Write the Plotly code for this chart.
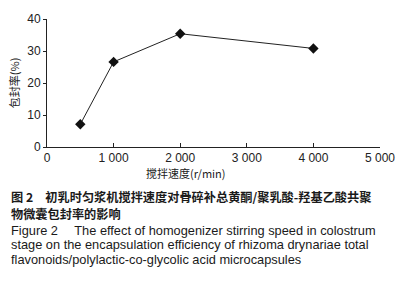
import plotly.graph_objects as go

speed = [500, 1000, 2000, 4000]
efficiency = [7.1, 26.6, 35.4, 30.8]
x_ticks = [0, 1000, 2000, 3000, 4000, 5000]
x_tick_labels = ["0", "1 000", "2 000", "3 000", "4 000", "5 000"]
y_ticks = [0, 10, 20, 30, 40]
y_tick_labels = ["0", "10", "20", "30", "40"]

x_title = "搅拌速度(r/min)"
y_title = "包封率(%)"
caption_cn = ["图 2　初乳时匀浆机搅拌速度对骨碎补总黄酮/聚乳酸-羟基乙酸共聚",
              "物微囊包封率的影响"]
caption_en = ["Figure 2　 The effect of homogenizer stirring speed in colostrum",
              "stage on the encapsulation efficiency of rhizoma drynariae total",
              "flavonoids/polylactic-co-glycolic acid microcapsules"]

fig = go.Figure()
fig.add_trace(go.Scatter(
    x=speed, y=efficiency, mode="lines+markers",
    line=dict(color="#222222", width=1),
    marker=dict(symbol="diamond", size=8, color="#111111"),
    showlegend=False,
))

axis_font = dict(family="Liberation Sans, Arial, sans-serif", size=12, color="#222222")
fig.update_layout(
    width=415, height=300,
    margin=dict(l=47, r=35, t=13, b=153),
    paper_bgcolor="white", plot_bgcolor="white",
    xaxis=dict(range=[0, 5000], tickvals=x_ticks, ticktext=x_tick_labels,
               showline=True, linecolor="#222222", linewidth=1,
               ticks="inside", ticklen=4, tickcolor="#222222",
               showgrid=False, zeroline=False, tickfont=axis_font, fixedrange=True),
    yaxis=dict(range=[0, 40], tickvals=y_ticks, ticktext=y_tick_labels,
               showline=True, linecolor="#222222", linewidth=1,
               ticks="outside", ticklen=3, tickcolor="#222222",
               showgrid=False, zeroline=False, tickfont=axis_font, fixedrange=True),
)

PW, PH = 333.0, 133.7
def px_x(xp):
    return (xp - 47) / PW
def px_y(yp):
    return (146.7 - yp) / PH

cjk = "Noto Sans CJK SC, sans-serif"
fig.add_annotation(text=x_title, xref="paper", yref="paper", x=px_x(186), y=px_y(173.5),
                   showarrow=False, font=dict(family=cjk, size=11, color="#222222"),
                   xanchor="center", yanchor="middle")
fig.add_annotation(text=y_title, xref="paper", yref="paper", x=px_x(14), y=px_y(80),
                   showarrow=False, textangle=-90,
                   font=dict(family=cjk, size=11, color="#222222"),
                   xanchor="center", yanchor="middle")

def add_line(text, ypix, font):
    fig.add_annotation(text=text, xref="paper", yref="paper",
                       x=px_x(9), y=px_y(ypix),
                       showarrow=False, xanchor="left", yanchor="middle",
                       font=font)

for t, yp in zip(caption_cn, [199, 217]):
    add_line("<b>" + t + "</b>", yp, dict(family=cjk, size=12.2, color="#1a1a1a"))
for t, yp in zip(caption_en, [233.5, 249, 264.5]):
    add_line(t, yp, dict(family="Liberation Sans, Arial, sans-serif", size=12.8, color="#1a1a1a"))

fig.write_html("out.html", config={"displayModeBar": False},
               post_script="document.body.style.margin='0';")
